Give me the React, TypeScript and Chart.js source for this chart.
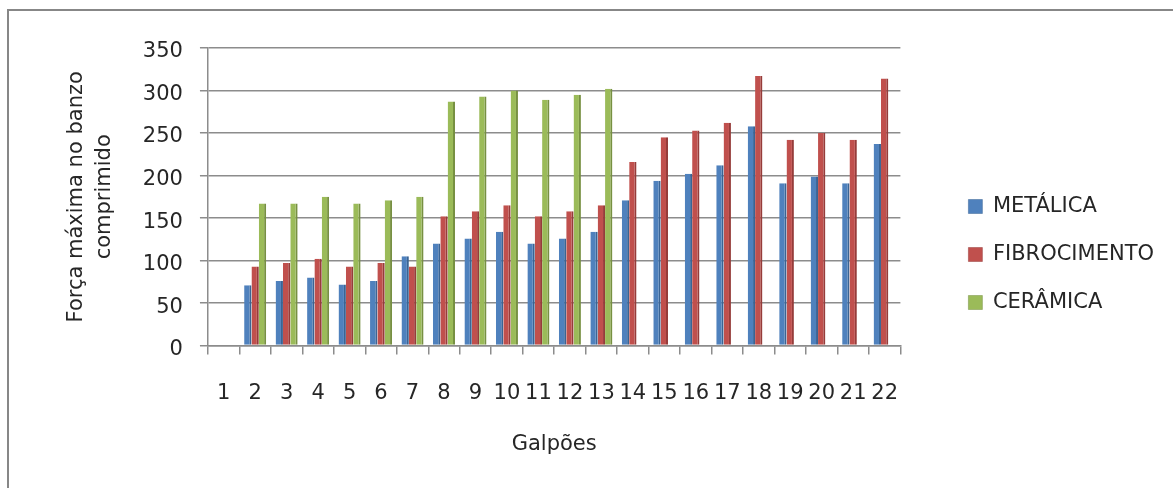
import React, { useEffect, useRef } from 'react';
import { Chart, registerables } from 'chart.js';

Chart.register(...registerables);

const categories = ['1', '2', '3', '4', '5', '6', '7', '8', '9', '10', '11', '12', '13', '14', '15', '16', '17', '18', '19', '20', '21', '22'];
const seriesNames = ['METÁLICA', 'FIBROCIMENTO', 'CERÂMICA'];
const metalica = [null, 71, 76, 80, 72, 76, 105, 120, 126, 134, 120, 126, 134, 171, 194, 202, 212, 258, 191, 199, 191, 237];
const fibrocimento = [null, 93, 97, 102, 93, 97, 93, 152, 158, 165, 152, 158, 165, 216, 245, 253, 262, 317, 242, 250, 242, 314];
const ceramica = [null, 167, 167, 175, 167, 171, 175, 287, 293, 300, 289, 295, 302, null, null, null, null, null, null, null, null, null];
const yTicks = [0, 50, 100, 150, 200, 250, 300, 350];
const yTitle = ['Força máxima no banzo', 'comprimido'];
const xTitle = 'Galpões';

const fills = ['#4F81BD', '#C0504D', '#9BBB59'];
const edges = ['#3A6494', '#963C3A', '#779042'];
const gridColor = '#8c8c8c';
const textColor = '#262626';
const FONT = 'DejaVu Sans';

const framePlugin = {
  id: 'frame',
  beforeDraw(chart: any) {
    const ctx = chart.ctx;
    ctx.save();
    ctx.fillStyle = '#ffffff';
    ctx.fillRect(0, 0, chart.width, chart.height);
    ctx.strokeStyle = '#878787';
    ctx.lineWidth = 2;
    ctx.beginPath();
    ctx.moveTo(8, chart.height + 4);
    ctx.lineTo(8, 10);
    ctx.lineTo(chart.width + 4, 10);
    ctx.stroke();
    ctx.restore();
  },
};

export default function App() {
  const ref = useRef<HTMLCanvasElement>(null);

  useEffect(() => {
    if (!ref.current) return;
    const values = [metalica, fibrocimento, ceramica];
    const chart = new Chart(ref.current, {
      type: 'bar',
      data: {
        labels: categories,
        datasets: seriesNames.map((name, i) => ({
          label: name,
          data: values[i],
          backgroundColor: fills[i],
          borderColor: edges[i],
          borderWidth: { top: 0, right: 2, bottom: 0, left: 0 },
          categoryPercentage: 0.7,
          barPercentage: 1.0,
          xAxisID: 'x',
          yAxisID: 'y',
        })),
      },
      options: {
        responsive: false,
        animation: false,
        devicePixelRatio: 1,
        layout: { padding: { left: 50, top: 48, right: 9, bottom: 31 } },
        plugins: {
          tooltip: { enabled: false },
          legend: {
            position: 'right',
            align: 'center',
            maxWidth: 300,
            title: { display: true, text: '', font: { size: 4, lineHeight: 1 }, padding: 0 },
            labels: {
              boxWidth: 14,
              boxHeight: 14,
              padding: 27,
              color: textColor,
              font: { family: FONT, size: 21 },
            },
          },
        },
        scales: {
          x: {
            grid: {
              display: true,
              drawOnChartArea: false,
              drawTicks: true,
              tickLength: 9,
              color: gridColor,
              lineWidth: 1.5,
              offset: true,
            },
            border: { display: true, color: gridColor, width: 1.5 },
            ticks: {
              autoSkip: false,
              maxRotation: 0,
              minRotation: 0,
              padding: 26,
              color: textColor,
              font: { family: FONT, size: 21 },
            },
            title: {
              display: true,
              text: xTitle,
              color: textColor,
              font: { family: FONT, size: 21 },
              padding: { top: 0, bottom: 0 },
            },
          },
          y: {
            min: 0,
            max: 350,
            afterBuildTicks: (scale: any) => {
              scale.ticks = yTicks.map((v) => ({ value: v }));
            },
            grid: { color: gridColor, lineWidth: 1.5, tickLength: 8 },
            border: { display: true, color: gridColor, width: 1.5 },
            ticks: {
              padding: 17,
              labelOffset: 4,
              color: textColor,
              font: { family: FONT, size: 21 },
            },
            title: {
              display: true,
              text: yTitle,
              color: textColor,
              font: { family: FONT, size: 21, lineHeight: 1.33 },
              padding: { top: 13, bottom: 7 },
            },
          },
          spacer: {
            type: 'linear',
            position: 'right',
            display: true,
            grid: { display: false, drawTicks: false },
            border: { display: false },
            ticks: { display: false },
            afterFit: (s: any) => {
              s.width = 41;
            },
          },
        },
      },
      plugins: [framePlugin],
    } as any);
    return () => chart.destroy();
  }, []);

  return (
    <div style={{ position: 'fixed', left: 0, top: 0, width: 1173, height: 488 }}>
      <canvas ref={ref} width={1173} height={488} style={{ display: 'block', width: 1173, height: 488 }} />
    </div>
  );
}
